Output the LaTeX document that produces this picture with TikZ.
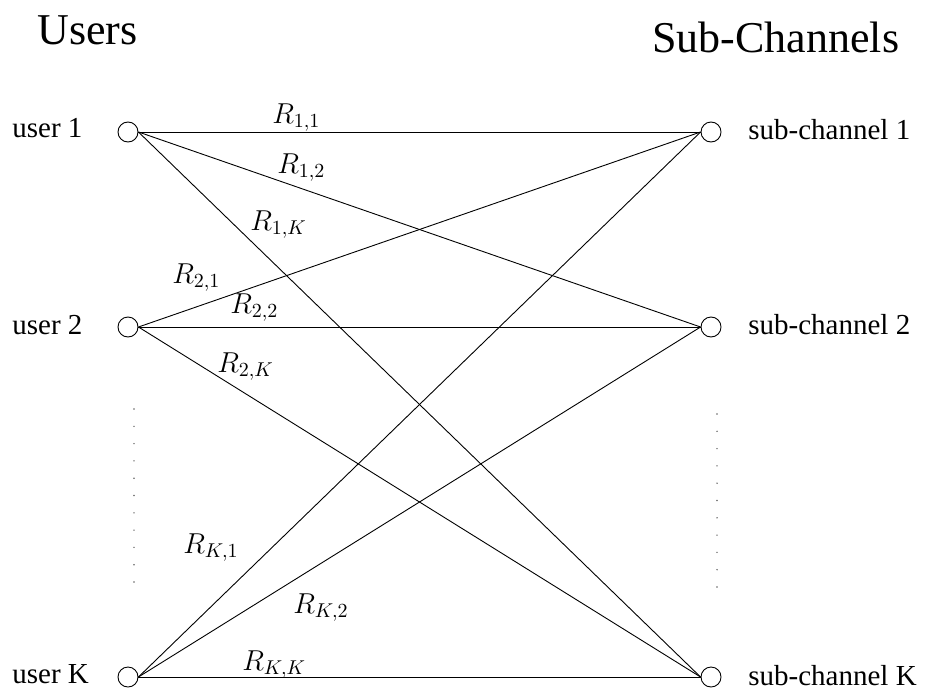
\documentclass[tikz,border=0pt]{standalone}
\usepackage[no-math]{fontspec}
\setmainfont{Liberation Serif}
\begin{document}
\begin{tikzpicture}[x=0.5pt,y=-0.5pt,
  port/.style={circle,draw,line width=0.45pt,minimum size=10pt,inner sep=0pt},
  lbl/.style={anchor=base west,inner sep=0pt,font=\fontsize{14.5}{17}\selectfont},
  rate/.style={anchor=base west,inner sep=0pt,font=\fontsize{14.4}{17}\selectfont},
  title/.style={anchor=base west,inner sep=0pt,font=\fontsize{22}{26}\selectfont},
  link/.style={line width=0.45pt},
  dotm/.style={fill=black!60}]
\useasboundingbox (0,0) rectangle (930,690);
\node[title] (tu) at (37,45) {Users};
\node[title] (ts) at (652,53) {Sub-Channels};

\node[port] (u1) at (128,132) {};
\node[port] (u2) at (128,327) {};
\node[port] (uK) at (128,677) {};
\node[port] (s1) at (711,132) {};
\node[port] (s2) at (711,327) {};
\node[port] (sK) at (711,677) {};

\node[lbl] (lu1) at (12,137) {user 1};
\node[lbl] (lu2) at (12,334) {user 2};
\node[lbl] (luK) at (12,683) {user K};
\node[lbl] (ls1) at (748,139) {sub-channel 1};
\node[lbl] (ls2) at (748,334) {sub-channel 2};
\node[lbl] (lsK) at (748,685) {sub-channel K};

\foreach \u in {1,2,K}{
  \foreach \s in {1,2,K}{
    \draw[link] (u\u.east) -- (s\s.west);
  }
}

\node[rate] (r11) at (272,123) {$R_{1,1}$};
\node[rate] (r12) at (277,173) {$R_{1,2}$};
\node[rate] (r1K) at (250,230) {$R_{1,K}$};
\node[rate] (r21) at (172,283) {$R_{2,1}$};
\node[rate] (r22) at (230,313) {$R_{2,2}$};
\node[rate] (r2K) at (217,372) {$R_{2,K}$};
\node[rate] (rK1) at (183,553) {$R_{K,1}$};
\node[rate] (rK2) at (293,613) {$R_{K,2}$};
\node[rate] (rKK) at (242,670) {$R_{K,K}$};

\foreach \i in {0,...,10}{
  \fill[dotm] (134,409+17.3*\i) circle (0.8);
  \fill[dotm] (717,414+17.3*\i) circle (0.8);
}
\end{tikzpicture}
\end{document}
